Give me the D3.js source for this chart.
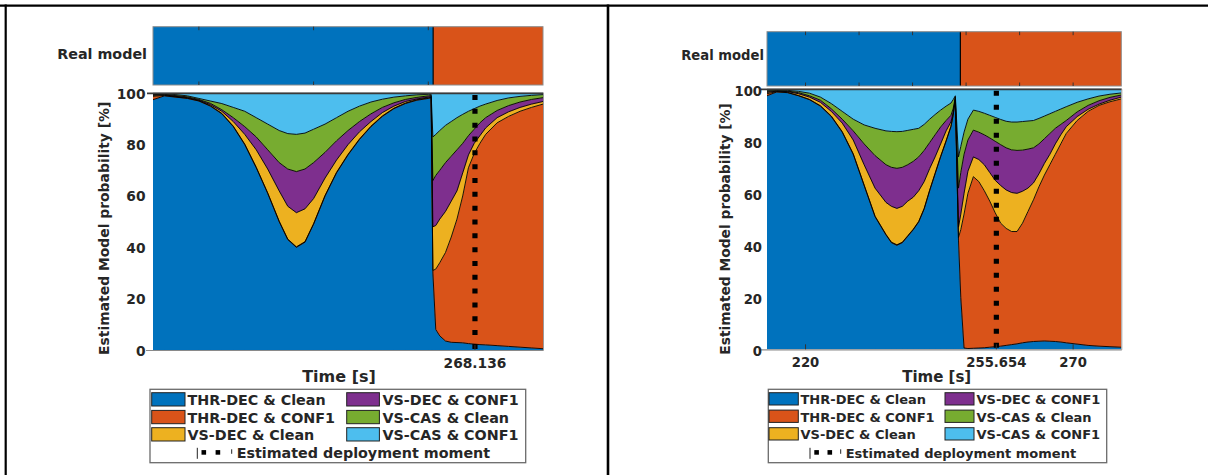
<!DOCTYPE html>
<html><head><meta charset="utf-8">
<script src="https://cdn.jsdelivr.net/npm/d3@7"></script>
<style>
html,body{margin:0;padding:0;background:#fff;}
svg{display:block;}
text{font-family:"DejaVu Sans",sans-serif;font-weight:bold;fill:#262626;}
</style></head><body>
<svg id="chart" width="1208" height="475"></svg>
<script>
// ---------------- DATA ----------------
const seriesNames = ["THR-DEC & Clean","THR-DEC & CONF1","VS-DEC & Clean","VS-DEC & CONF1","VS-CAS & Clean","VS-CAS & CONF1"];
const seriesColors = ["#0072BD","#D95319","#EDB120","#7E2F8E","#77AC30","#4DBEEE"];
const deployLabel = "Estimated deployment moment";
const yTicks = [0,20,40,60,80,100];

// Left panel
const leftTime = [212,214,216,218,220,222,224,226,228,230,232,234,235.5,237,238.5,240,242,244,246,248,250,252,254,256,258,260,260.5,
  260.8,261.3,262,263,264,265,266,267,268,269,270,272,274,276,278,280];
const leftThrDecClean = [97.5,99.0,98.5,98.0,97.0,95.0,92.0,87.0,80.0,71.0,61.0,50.0,43.0,40.0,42.0,49.0,60.0,69.0,76.0,82.0,87.0,91.0,94.0,96.0,97.3,98.0,98.3,
  30.0,8.0,5.5,3.5,3.0,2.9,2.8,2.5,2.3,2.1,2.0,1.7,1.4,1.1,0.8,0.5];
const leftThrDecConf1 = [1.3,0.2,0.1,0.1,0.1,0.2,0.2,0.2,0.2,0.2,0.2,0.2,0.2,0.2,0.2,0.2,0.2,0.2,0.2,0.2,0.2,0.2,0.2,0.2,0.2,0.2,0.1,
  1.0,23.5,28.5,34.5,41.0,48.1,57.2,68.5,74.2,78.4,82.0,86.8,89.6,91.9,93.7,95.3];
const leftVsDecClean = [0.4,0.2,0.2,0.2,0.2,0.4,0.8,1.8,3.8,6.8,9.3,11.8,12.8,13.3,12.8,9.8,6.8,4.8,3.8,2.8,1.8,1.3,0.8,0.6,0.3,0.3,0.3,
  17.0,17.0,17.0,16.0,14.0,11.0,9.0,5.0,4.0,3.0,2.5,2.0,1.8,1.5,1.3,1.0];
const leftVsDecConf1 = [0.3,0.2,0.3,0.3,0.3,0.5,0.6,1.5,3.0,5.0,7.5,11.0,14.5,16.0,15.5,14.0,10.0,7.5,5.5,4.0,3.0,2.0,1.3,0.8,0.6,0.5,0.4,
  18.0,19.5,19.0,19.0,17.5,16.0,11.5,7.5,5.5,5.0,4.0,2.8,2.4,2.1,1.8,1.5];
const leftVsCasClean = [0.3,0.2,0.4,0.4,0.4,0.9,2.4,4.0,6.0,7.5,10.0,12.5,13.8,14.5,14.0,13.0,11.0,9.0,7.5,6.0,4.6,3.2,2.2,1.4,1.0,0.6,0.5,
  17.0,16.0,15.5,14.5,13.5,12.5,11.3,9.5,8.0,6.5,5.3,3.9,3.0,2.2,1.6,1.2];
const leftVsCasConf1 = [0.2,0.2,0.5,1.0,2.0,3.0,4.0,5.5,7.0,9.5,12.0,14.5,15.7,16.0,15.5,14.0,12.0,9.5,7.0,5.0,3.4,2.3,1.5,1.0,0.6,0.4,0.4,
  17.0,16.0,14.5,12.5,11.0,9.5,8.2,7.0,6.0,5.0,4.2,2.8,1.8,1.2,0.8,0.5];
const leftDomain = [212, 280];
const leftDeployment = 268.136;
const leftXTicks = [268.136];
const leftBarTicks = [220, 240, 260];
const leftRealModel = ["THR-DEC & Clean","THR-DEC & CONF1"];
const leftRealBreaks = [212, 260.85, 280];

// Right panel
const rightTime = [212.8,214.62,216.66,218.70,220.74,222.78,224.82,226.86,228.91,230.95,232.99,235.03,236.05,237.07,238.09,239.11,240.13,241.15,242.17,243.19,244.21,245.24,246.26,247.17,247.58,247.99,
  248.58,249.01,249.62,250.34,251.36,252.38,253.40,254.42,255.44,256.46,257.48,258.50,259.52,260.54,261.56,262.59,263.61,264.63,265.65,266.67,267.69,268.71,270.75,272.79,274.84,276.88,279.0];
const rightThrDecClean = [97.5,99.0,98.7,97.5,96.0,93.5,89.5,83.5,75.0,63.0,51.0,44.0,41.0,40.0,41.0,43.5,46.0,49.0,54.0,61.0,67.5,74.0,80.0,85.6,90.0,96.0,
  42.0,20.0,0.5,0.3,0.4,0.5,0.6,0.8,1.0,1.2,1.5,1.8,2.1,2.5,2.8,3.0,3.1,3.2,3.1,3.0,2.8,2.5,2.0,1.5,1.2,1.0,0.8];
const rightThrDecConf1 = [0.8,0.1,0.1,0.1,0.1,0.2,0.2,0.2,0.2,0.2,0.2,0.2,0.2,0.2,0.2,0.2,0.2,0.2,0.2,0.2,0.2,0.2,0.2,0.2,0.2,0.2,
  1.0,26.0,51.5,59.7,66.0,64.0,60.4,56.2,51.5,47.3,45.0,43.5,43.2,46.0,50.2,54.5,59.4,63.8,67.9,72.0,76.2,80.5,86.0,90.0,92.6,94.2,95.5];
const rightVsDecClean = [0.5,0.2,0.3,0.7,0.9,1.3,1.8,3.3,5.3,7.8,10.8,12.3,13.8,14.0,13.8,13.3,12.3,11.8,10.3,8.3,6.3,4.8,3.8,1.7,0.8,0.4,
  4.0,6.0,8.0,8.5,7.6,8.5,10.0,11.0,12.5,14.5,14.8,15.0,14.7,12.3,9.0,6.5,5.0,4.5,4.0,4.0,3.5,2.6,1.5,0.8,0.5,0.6,0.7];
const rightVsDecConf1 = [0.4,0.2,0.2,0.4,0.5,0.8,1.0,1.5,3.5,8.0,12.5,14.5,15.0,15.4,15.0,14.0,13.8,13.0,12.0,10.0,8.5,6.5,4.0,2.5,1.5,0.4,
  15.0,16.0,15.0,12.0,10.3,10.5,11.5,13.3,15.0,15.7,16.2,16.4,16.5,15.8,15.0,13.5,11.5,9.5,8.0,6.0,4.0,2.4,1.8,1.5,1.3,1.1,0.8];
const rightVsCasClean = [0.4,0.3,0.3,0.5,1.0,1.2,2.0,3.0,4.5,7.3,10.5,13.0,13.8,14.1,13.8,13.2,12.3,11.0,10.0,9.0,7.8,6.5,5.5,4.7,3.5,0.5,
  12.0,10.0,8.5,8.0,7.7,8.0,8.3,8.7,9.2,9.7,10.2,10.7,10.9,11.0,10.8,10.5,9.8,8.7,7.6,6.5,5.9,5.3,3.7,2.5,1.8,1.2,0.8];
const rightVsCasConf1 = [0.4,0.2,0.4,0.8,1.5,3.0,5.5,8.5,11.5,13.7,15.0,16.0,16.2,16.3,16.2,15.8,15.4,15.0,13.5,11.5,9.7,8.0,6.5,5.3,4.0,2.5,
  26.0,22.0,16.5,11.5,8.0,8.5,9.2,10.0,10.8,11.6,12.3,12.6,12.6,12.4,12.2,12.0,11.2,10.3,9.4,8.5,7.6,6.7,5.0,3.7,2.6,1.9,1.4];
const rightDomain = [212.8, 279.0];
const rightDeployment = 255.654;
const rightXTicks = [220, 255.654, 270];
const rightBarTicks = [220, 230, 240, 250, 260, 270];
const rightRealModel = ["THR-DEC & Clean","THR-DEC & CONF1"];
const rightRealBreaks = [212.8, 248.93, 279.0];

// ---------------- DRAWING ----------------
const svg = d3.select("#chart");

// table frame
svg.append("line").attr("x1",0).attr("x2",1208).attr("y1",5.7).attr("y2",5.7).attr("stroke","#000").attr("stroke-width",2.2);
svg.append("line").attr("x1",5.7).attr("x2",5.7).attr("y1",4.6).attr("y2",475).attr("stroke","#000").attr("stroke-width",2.2);
svg.append("line").attr("x1",608).attr("x2",608).attr("y1",4.6).attr("y2",475).attr("stroke","#000").attr("stroke-width",2.6);

function drawPanel(p, id) {
  const g = svg.append("g");
  const x = d3.scaleLinear().domain(p.domain).range([p.plot.x0, p.plot.x1]);
  const y = d3.scaleLinear().domain([0, 100]).range([p.plot.y1, p.plot.y0]);

  // ---- real model bar ----
  const segs = p.realModel.map((m, i) => ({model: m, from: p.realBreaks[i], to: p.realBreaks[i + 1]}));
  g.selectAll(null).data(segs).join("rect")
    .attr("x", d => x(d.from)).attr("width", d => x(d.to) - x(d.from))
    .attr("y", p.bar.y0).attr("height", p.bar.y1 - p.bar.y0)
    .attr("fill", d => seriesColors[seriesNames.indexOf(d.model)]);
  segs.slice(1).forEach(d => {
    g.append("line").attr("x1", x(d.from)).attr("x2", x(d.from)).attr("y1", p.bar.y0).attr("y2", p.bar.y1)
      .attr("stroke", "#000").attr("stroke-width", 1.2);
  });
  g.append("rect").attr("x", p.plot.x0).attr("y", p.bar.y0).attr("width", p.plot.x1 - p.plot.x0)
    .attr("height", p.bar.y1 - p.bar.y0).attr("fill", "none").attr("stroke", "#8c8c8c").attr("stroke-width", 1);
  p.barTicks.forEach(t => {
    [[p.bar.y0, p.bar.y0 + 3.5], [p.bar.y1 - 3.5, p.bar.y1]].forEach(([a, b]) => {
      g.append("line").attr("x1", x(t)).attr("x2", x(t)).attr("y1", a).attr("y2", b)
        .attr("stroke", "#333").attr("stroke-width", 1);
    });
  });
  g.append("text").attr("x", p.realLabel.x).attr("y", p.realLabel.y).attr("text-anchor", "end")
    .attr("font-size", p.fs.label).text("Real model");

  // ---- stacked areas ----
  const rows = p.time.map((t, i) => {
    const r = {t};
    seriesNames.forEach((n, k) => r[n] = p.series[k][i]);
    return r;
  });
  const stacked = d3.stack().keys(seriesNames)(rows);
  const clipId = "clip" + id;
  svg.append("defs").append("clipPath").attr("id", clipId).append("rect")
    .attr("x", p.plot.x0).attr("y", p.plot.y0 - 1).attr("width", p.plot.x1 - p.plot.x0).attr("height", p.plot.y1 - p.plot.y0 + 1);
  const pg = g.append("g").attr("clip-path", `url(#${clipId})`);
  const area = d3.area().x(d => x(d.data.t)).y0(d => y(d[0])).y1(d => y(d[1]));
  const edge = d3.line().x(d => x(d.data.t)).y(d => y(d[1]));
  pg.selectAll(null).data(stacked).join("path").attr("d", area)
    .attr("fill", (d, i) => seriesColors[i]).attr("stroke", (d, i) => seriesColors[i]).attr("stroke-width", 0.4);
  pg.selectAll(null).data(stacked).join("path").attr("d", edge)
    .attr("fill", "none").attr("stroke", "#000").attr("stroke-width", 0.9).attr("stroke-linejoin", "round");

  // deployment dotted line
  pg.append("line").attr("x1", x(p.deploy)).attr("x2", x(p.deploy)).attr("y1", p.dot.start).attr("y2", p.plot.y1)
    .attr("stroke", "#000").attr("stroke-width", 5.2).attr("stroke-dasharray", `5 ${p.dot.period - 5}`);

  // axes box
  g.append("line").attr("x1", p.plot.x0 - 6).attr("x2", p.plot.x1 + 0.5).attr("y1", p.plot.y0).attr("y2", p.plot.y0)
    .attr("stroke", "#3a3a3a").attr("stroke-width", 1.8);
  g.append("line").attr("x1", p.plot.x0 - 7).attr("x2", p.plot.x1 + 0.5).attr("y1", p.plot.y1 + 0.5).attr("y2", p.plot.y1 + 0.5)
    .attr("stroke", "#8a8a8a").attr("stroke-width", 1.2);
  g.append("line").attr("x1", p.plot.x1 + 0.5).attr("x2", p.plot.x1 + 0.5).attr("y1", p.plot.y0).attr("y2", p.plot.y1 + 0.5)
    .attr("stroke", "#9a9a9a").attr("stroke-width", 1);

  // x ticks
  p.xTicks.forEach(t => {
    g.append("line").attr("x1", x(t)).attr("x2", x(t)).attr("y1", p.plot.y1 - 5).attr("y2", p.plot.y1)
      .attr("stroke", "#333").attr("stroke-width", 1);
    g.append("text").attr("x", x(t)).attr("y", p.xTickY).attr("text-anchor", "middle")
      .attr("font-size", p.fs.tick).text(String(t));
  });
  g.append("text").attr("x", p.timeX).attr("y", p.timeY).attr("text-anchor", "middle")
    .attr("font-size", p.fs.time).text("Time [s]");

  // y ticks
  yTicks.forEach(v => {
    g.append("text").attr("x", p.yTickX).attr("y", y(v) + p.yTickDy).attr("text-anchor", "end")
      .attr("dominant-baseline", "central").attr("font-size", p.fs.tick).text(String(v));
  });
  g.append("text").attr("transform", `translate(${p.yTitle.x},${p.yTitle.y}) rotate(-90)`)
    .attr("text-anchor", "middle").attr("dominant-baseline", "central")
    .attr("font-size", p.fs.ytitle).text("Estimated Model probability [%]");

  // ---- legend ----
  const L = p.legend;
  g.append("rect").attr("x", L.x0).attr("y", L.y0).attr("width", L.x1 - L.x0).attr("height", L.y1 - L.y0)
    .attr("fill", "#fff").attr("stroke", "#6a6a6a").attr("stroke-width", 1.3);
  const items = seriesNames.map((n, i) => ({name: n, color: seriesColors[i], col: Math.floor(i / 3), row: i % 3}));
  const li = g.selectAll(null).data(items).join("g");
  li.append("rect")
    .attr("x", d => d.col ? L.sw2[0] : L.sw1[0]).attr("width", d => (d.col ? L.sw2[1] - L.sw2[0] : L.sw1[1] - L.sw1[0]))
    .attr("y", d => L.rows[d.row] - L.swTop).attr("height", L.swH)
    .attr("fill", d => d.color).attr("stroke", "#222").attr("stroke-width", 1);
  li.append("text").attr("x", d => d.col ? L.tx2 : L.tx1).attr("y", d => L.rows[d.row])
    .attr("font-size", p.fs.legend).text(d => d.name);
  // deployment sample
  const D = L.dep;
  g.append("line").attr("x1", D.bar).attr("x2", D.bar).attr("y1", L.row4 - 10.5).attr("y2", L.row4 + 0.5)
    .attr("stroke", "#222").attr("stroke-width", 1);
  D.sq.forEach(sx => {
    g.append("rect").attr("x", sx).attr("y", L.row4 - 8.2).attr("width", 4.6).attr("height", 4.6).attr("fill", "#000");
  });
  g.append("line").attr("x1", D.tick).attr("x2", D.tick).attr("y1", L.row4 - 9).attr("y2", L.row4 - 4.5)
    .attr("stroke", "#222").attr("stroke-width", 1);
  g.append("text").attr("x", D.text).attr("y", L.row4).attr("font-size", p.fs.legend).text(deployLabel);
}

drawPanel({
  time: leftTime,
  series: [leftThrDecClean, leftThrDecConf1, leftVsDecClean, leftVsDecConf1, leftVsCasClean, leftVsCasConf1],
  domain: leftDomain, deploy: leftDeployment, xTicks: leftXTicks, barTicks: leftBarTicks,
  realModel: leftRealModel, realBreaks: leftRealBreaks,
  plot: {x0: 153, x1: 543, y0: 93.3, y1: 350},
  bar: {y0: 26.7, y1: 85},
  dot: {start: 95, period: 13.83},
  fs: {label: 14.3, tick: 13.8, time: 16, ytitle: 13.9, legend: 14.3},
  realLabel: {x: 147, y: 59.3},
  xTickY: 368, timeX: 339, timeY: 382,
  yTickX: 145.5, yTickDy: 0.5,
  yTitle: {x: 104, y: 228.3},
  legend: {x0: 150, x1: 525.7, y0: 389.3, y1: 462.7, rows: [405, 422.7, 440], row4: 458.3,
    sw1: [151.7, 185], sw2: [346.7, 379.4], tx1: 187.5, tx2: 382.5, swTop: 12.3, swH: 13.3,
    dep: {bar: 197.3, sq: [201.5, 215.6], tick: 231.7, text: 236.7}}
}, "L");

drawPanel({
  time: rightTime,
  series: [rightThrDecClean, rightThrDecConf1, rightVsDecClean, rightVsDecConf1, rightVsCasClean, rightVsCasConf1],
  domain: rightDomain, deploy: rightDeployment, xTicks: rightXTicks, barTicks: rightBarTicks,
  realModel: rightRealModel, realBreaks: rightRealBreaks,
  plot: {x0: 767, x1: 1121.3, y0: 89.3, y1: 349.3},
  bar: {y0: 31.7, y1: 86},
  dot: {start: 90.7, period: 14.0},
  fs: {label: 13.2, tick: 13.2, time: 15, ytitle: 13.8, legend: 13},
  realLabel: {x: 764, y: 60},
  xTickY: 366.7, timeX: 936.7, timeY: 381.5,
  yTickX: 762, yTickDy: 2.5,
  yTitle: {x: 725, y: 229},
  legend: {x0: 768.3, x1: 1106.7, y0: 389.3, y1: 462.7, rows: [404.3, 421.7, 439.3], row4: 458.3,
    sw1: [769, 798.3], sw2: [945, 974], tx1: 800.5, tx2: 976.5, swTop: 11.6, swH: 12.3,
    dep: {bar: 810, sq: [814.3, 827.5], tick: 840.7, text: 845.7}}
}, "R");
</script>
</body></html>
